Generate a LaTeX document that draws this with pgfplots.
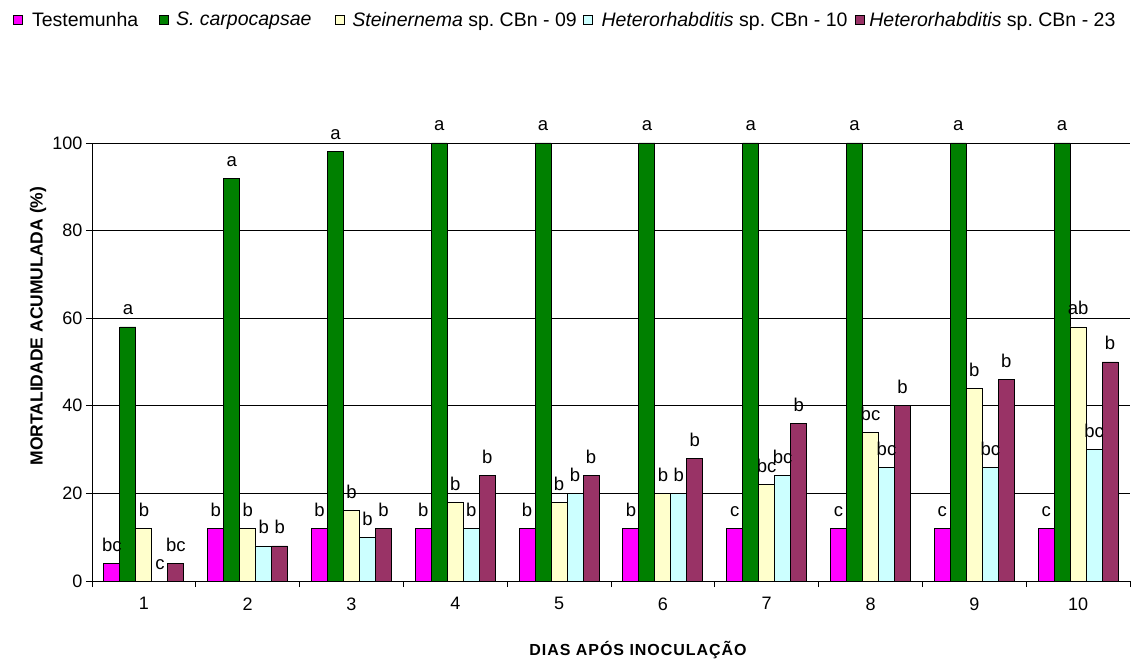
\documentclass[border=0pt]{standalone}
\usepackage{fontspec}
\setmainfont{Liberation Sans}
\newfontfamily\spaced[LetterSpace=6]{Liberation Sans}
\usepackage{pgfplots}
\usepackage{pgfplotstable}
\pgfplotsset{compat=1.18}
\definecolor{cTest}{HTML}{FF00FF}
\definecolor{cSc}{HTML}{008000}
\definecolor{cSt}{HTML}{FFFFCC}
\definecolor{cHa}{HTML}{CCFFFF}
\definecolor{cHb}{HTML}{993366}
\pgfplotstableread{
x y lab
1 4 bc
2 12 b
3 12 b
4 12 b
5 12 b
6 12 b
7 12 c
8 12 c
9 12 c
10 12 c
}\tTest
\pgfplotstableread{
x y lab
1 58 a
2 92 a
3 98 a
4 100 a
5 100 a
6 100 a
7 100 a
8 100 a
9 100 a
10 100 a
}\tSc
\pgfplotstableread{
x y lab
1 12 b
2 12 b
3 16 b
4 18 b
5 18 b
6 20 b
7 22 bc
8 34 bc
9 44 b
10 58 ab
}\tSt
\pgfplotstableread{
x y lab
1 0 c
2 8 b
3 10 b
4 12 b
5 20 b
6 20 b
7 24 bc
8 26 bc
9 26 bc
10 30 bc
}\tHa
\pgfplotstableread{
x y lab
1 4 bc
2 8 b
3 12 b
4 24 b
5 24 b
6 28 b
7 36 b
8 40 b
9 46 b
10 50 b
}\tHb
\begin{document}
\frenchspacing
\begin{tikzpicture}
\path[use as bounding box] (-92pt,-80pt) rectangle (1050pt,581pt);
\begin{axis}[
  at={(0pt,0pt)}, anchor=south west,
  width=1038pt, height=438pt, scale only axis,
  ybar=0pt, bar width=0.154,
  every axis plot/.append style={
    draw=black, line width=0.9pt,
    legend image code/.code={\draw[##1,line width=0.8pt] (0pt,-4.5pt) rectangle (9pt,4.5pt);}
  },
  xmin=0.5, xmax=10.5, ymin=0, ymax=100,
  axis x line=bottom, axis y line=left, axis line style={-, black, line width=0.8pt},
  xtick={0.5,1.5,...,10.5}, x tick label as interval,
  xticklabels={1,2,3,4,5,6,7,8,9,10},
  ytick={0,20,40,60,80,100},
  /pgf/number format/assume math mode=true,
  tick align=outside, major tick length=6pt,
  tick style={black, line width=0.8pt},
  ymajorgrids, grid style={black, line width=0.7pt},
  tick label style={font=\fontsize{18}{20}\selectfont},
  xticklabel style={yshift=-7pt},
  ylabel={\bfseries MORTALIDADE ACUMULADA (\%)},
  ylabel style={at={(axis description cs:-0.052,0.582)}, anchor=center, font=\fontsize{17.5}{20}\selectfont},
  xlabel={\spaced\bfseries DIAS APÓS INOCULAÇÃO},
  xlabel style={at={(axis description cs:0.526,-0.171)}, anchor=base, font=\fontsize{16}{19}\selectfont},
  clip=false,
  nodes near coords, point meta=explicit symbolic,
  every node near coord/.append style={anchor=base, yshift=12pt, inner sep=0pt, font=\fontsize{18.5}{20}\selectfont, text=black},
  legend columns=5,
  legend style={draw=none, fill=none, at={(axis description cs:-0.0761,1.281)}, anchor=west,
    font=\fontsize{19.5}{21}\selectfont, inner sep=0pt,
    /tikz/column 1/.append style={column sep=7pt},
    /tikz/column 2/.append style={column sep=19pt},
    /tikz/column 3/.append style={column sep=5pt},
    /tikz/column 4/.append style={column sep=21pt},
    /tikz/column 5/.append style={column sep=6pt},
    /tikz/column 6/.append style={column sep=4pt},
    /tikz/column 7/.append style={column sep=7pt},
    /tikz/column 8/.append style={column sep=5pt},
    /tikz/column 9/.append style={column sep=3pt}},
]
\addplot[fill=cTest] table[x=x,y=y,meta=lab] {\tTest};
\addplot[fill=cSc] table[x=x,y=y,meta=lab] {\tSc};
\addplot[fill=cSt] table[x=x,y=y,meta=lab] {\tSt};
\addplot[fill=cHa] table[x=x,y=y,meta=lab] {\tHa};
\addplot[fill=cHb] table[x=x,y=y,meta=lab] {\tHb};
\legend{Testemunha, \textit{S. carpocapsae}, \textit{Steinernema} sp. CBn - 09, \textit{Heterorhabditis} sp. CBn - 10, \textit{Heterorhabditis} sp. CBn - 23}
\end{axis}
\end{tikzpicture}
\end{document}
